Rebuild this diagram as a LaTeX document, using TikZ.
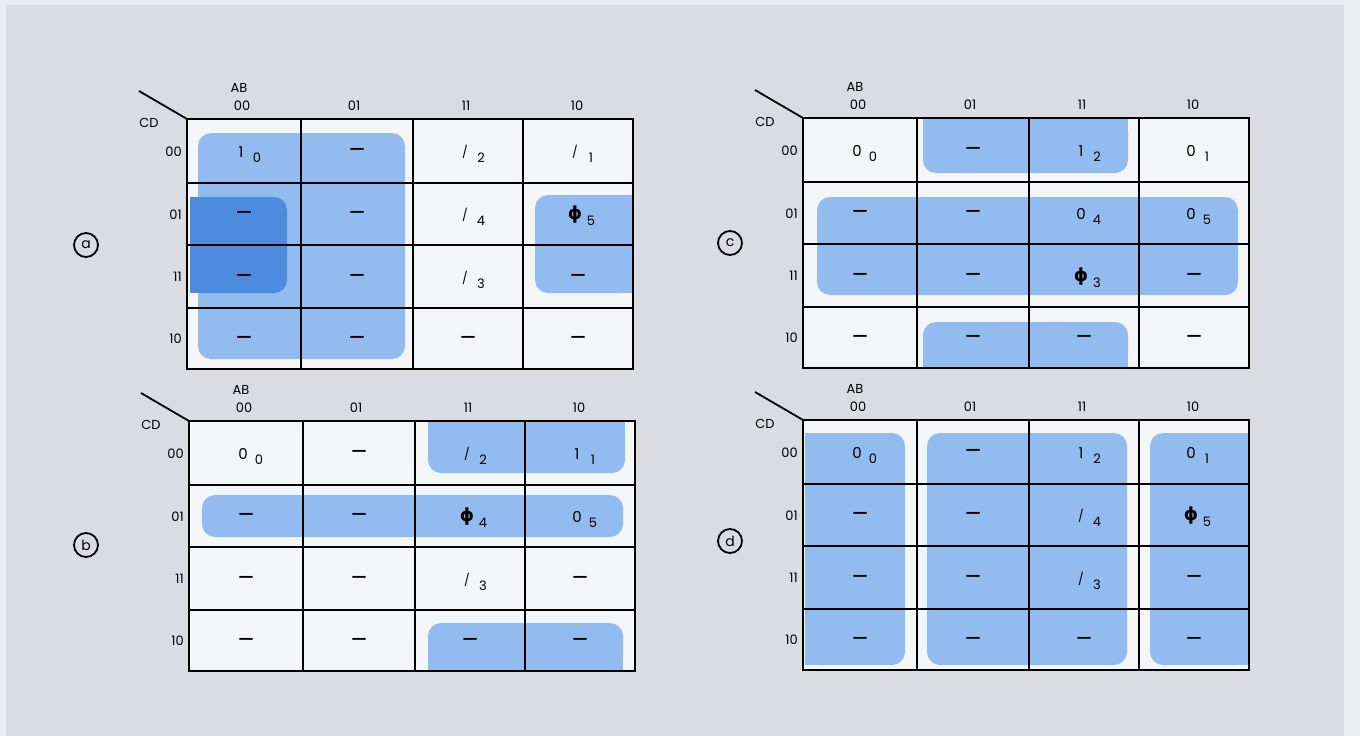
\documentclass[tikz,border=0pt]{standalone}
\usepackage{fontspec}
\setmainfont{Poppins}
\newfontfamily\dvs{DejaVu Sans}
\definecolor{edgebg}{HTML}{ECEDF0}
\definecolor{bg}{HTML}{DADCE1}
\definecolor{cellbg}{HTML}{F4F5F7}
\definecolor{lblue}{HTML}{92BCEF}
\definecolor{dblue}{HTML}{4C8BDD}
\tikzset{
  hdr/.style={font=\fontsize{13}{13}\selectfont, inner sep=0pt},
  ent/.style={font=\fontsize{15}{15}\selectfont, inner sep=0pt},
  subs/.style={font=\fontsize{13}{13}\selectfont, inner sep=0pt},
  dc/.style={font=\dvs\bfseries\fontsize{15}{15}\selectfont, inner sep=0pt},
  gridln/.style={line width=1.6pt, black},
  outerln/.style={line width=2.2pt, black},
  grp/.style={fill=lblue, rounded corners=13pt},
  grpdark/.style={fill=dblue, rounded corners=13pt},
  circlbl/.style={draw, circle, line width=1.8pt, minimum size=24pt, inner sep=0pt, font=\fontsize{14}{14}\selectfont},
}
\newcommand{\slsh}{\raisebox{2pt}{\fontsize{12}{12}\selectfont /}}
\newcommand{\phz}{{\dvs\bfseries\fontsize{18}{18}\selectfont ϕ}}
% grid with labels; #1 = prefix
\newcommand{\KGrid}[1]{%
  \draw[gridln] (114,0) -- (114,250) (226,0) -- (226,250) (336,0) -- (336,250)
                (0,64) -- (446,64) (0,126) -- (446,126) (0,189) -- (446,189);
  \draw[outerln] (0,0) rectangle (446,250);
  \draw[line width=1.8pt] (-48,-28) -- (0,0);
  \node[hdr] (#1-AB) at (52,-31) {AB};
  \node[hdr] (#1-CD) at (-38,4) {CD};
  \node[hdr] (#1-h0) at (55,-13) {00};
  \node[hdr] (#1-h1) at (167,-13) {01};
  \node[hdr] (#1-h2) at (279,-13) {11};
  \node[hdr] (#1-h3) at (390,-13) {10};
  \node[hdr, anchor=east] (#1-v0) at (-5,33) {00};
  \node[hdr, anchor=east] (#1-v1) at (-5,96) {01};
  \node[hdr, anchor=east] (#1-v2) at (-5,158) {11};
  \node[hdr, anchor=east] (#1-v3) at (-5,220) {10};
  \foreach \i/\x in {0/57,1/170,2/281,3/391}{
    \foreach \j/\y in {0/32,1/95,2/157.5,3/219.5}{
      \coordinate (#1-c\i\j) at (\x,\y);
    }
  }
}
\newcommand{\Ent}[5]{%
  \node[ent] (#1-m#2#3) at ([shift={(-3,1)}]#1-c#2#3) {#4};
  \node[subs] (#1-s#2#3) at ([shift={(13,7)}]#1-c#2#3) {#5};}
\newcommand{\Dc}[3]{%
  \node[dc] (#1-d#2#3) at ([shift={(0,0)}]#1-c#2#3) {—};}
\begin{document}
\begin{tikzpicture}[x=1pt,y=-1pt]
\useasboundingbox (0,0) rectangle (1360,736);
\fill[edgebg] (0,0) rectangle (1360,736);
\fill[bg] (6,5) rectangle (1344,736);

% ---------------- map (a)
\begin{scope}[shift={(187,119)}]
  \fill[cellbg] (0,0) rectangle (446,250);
  \fill[grp] (11,14) rectangle (218,240);
  \fill[grpdark] (3,78) rectangle (100,174);
  \fill[dblue] (3,78) rectangle (30,174);
  \fill[grp] (348,76) rectangle (446,174);
  \fill[lblue] (420,76) rectangle (446,174);
  \KGrid{a}
  \Ent{a}{0}{0}{1}{0} \Dc{a}{1}{0} \Ent{a}{2}{0}{\slsh}{2} \Ent{a}{3}{0}{\slsh}{1}
  \Dc{a}{0}{1} \Dc{a}{1}{1} \Ent{a}{2}{1}{\slsh}{4} \Ent{a}{3}{1}{\phz}{5}
  \Dc{a}{0}{2} \Dc{a}{1}{2} \Ent{a}{2}{2}{\slsh}{3} \Dc{a}{3}{2}
  \Dc{a}{0}{3} \Dc{a}{1}{3} \Dc{a}{2}{3} \Dc{a}{3}{3}
\end{scope}

% ---------------- map (b)
\begin{scope}[shift={(189,421)}]
  \fill[cellbg] (0,0) rectangle (446,250);
  \fill[grp] (239,0) rectangle (436,52);
  \fill[lblue] (239,0) rectangle (436,20);
  \fill[grp] (239,202) rectangle (434,250);
  \fill[lblue] (239,230) rectangle (434,250);
  \fill[grp] (13,74) rectangle (434,116);
  \KGrid{b}
  \Ent{b}{0}{0}{0}{0} \Dc{b}{1}{0} \Ent{b}{2}{0}{\slsh}{2} \Ent{b}{3}{0}{1}{1}
  \Dc{b}{0}{1} \Dc{b}{1}{1} \Ent{b}{2}{1}{\phz}{4} \Ent{b}{3}{1}{0}{5}
  \Dc{b}{0}{2} \Dc{b}{1}{2} \Ent{b}{2}{2}{\slsh}{3} \Dc{b}{3}{2}
  \Dc{b}{0}{3} \Dc{b}{1}{3} \Dc{b}{2}{3} \Dc{b}{3}{3}
\end{scope}

% ---------------- map (c)
\begin{scope}[shift={(803,118)}]
  \fill[cellbg] (0,0) rectangle (446,250);
  \fill[grp] (120,0) rectangle (325,55);
  \fill[lblue] (120,0) rectangle (325,20);
  \fill[grp] (120,204) rectangle (325,250);
  \fill[lblue] (120,230) rectangle (325,250);
  \fill[grp] (14,79) rectangle (435,177);
  \KGrid{c}
  \Ent{c}{0}{0}{0}{0} \Dc{c}{1}{0} \Ent{c}{2}{0}{1}{2} \Ent{c}{3}{0}{0}{1}
  \Dc{c}{0}{1} \Dc{c}{1}{1} \Ent{c}{2}{1}{0}{4} \Ent{c}{3}{1}{0}{5}
  \Dc{c}{0}{2} \Dc{c}{1}{2} \Ent{c}{2}{2}{\phz}{3} \Dc{c}{3}{2}
  \Dc{c}{0}{3} \Dc{c}{1}{3} \Dc{c}{2}{3} \Dc{c}{3}{3}
\end{scope}

% ---------------- map (d)
\begin{scope}[shift={(803,420)}]
  \fill[cellbg] (0,0) rectangle (446,250);
  \fill[grp] (2,13) rectangle (102,245);
  \fill[lblue] (2,13) rectangle (30,245);
  \fill[grp] (124,13) rectangle (324,245);
  \fill[grp] (347,13) rectangle (446,245);
  \fill[lblue] (420,13) rectangle (446,245);
  \KGrid{d}
  \Ent{d}{0}{0}{0}{0} \Dc{d}{1}{0} \Ent{d}{2}{0}{1}{2} \Ent{d}{3}{0}{0}{1}
  \Dc{d}{0}{1} \Dc{d}{1}{1} \Ent{d}{2}{1}{\slsh}{4} \Ent{d}{3}{1}{\phz}{5}
  \Dc{d}{0}{2} \Dc{d}{1}{2} \Ent{d}{2}{2}{\slsh}{3} \Dc{d}{3}{2}
  \Dc{d}{0}{3} \Dc{d}{1}{3} \Dc{d}{2}{3} \Dc{d}{3}{3}
\end{scope}

% circled labels
\node[circlbl] (la) at (86,245) {a};
\node[circlbl] (lb) at (86,545) {b};
\node[circlbl] (lc) at (730,243) {c};
\node[circlbl] (ld) at (730,541) {d};
\end{tikzpicture}
\end{document}
